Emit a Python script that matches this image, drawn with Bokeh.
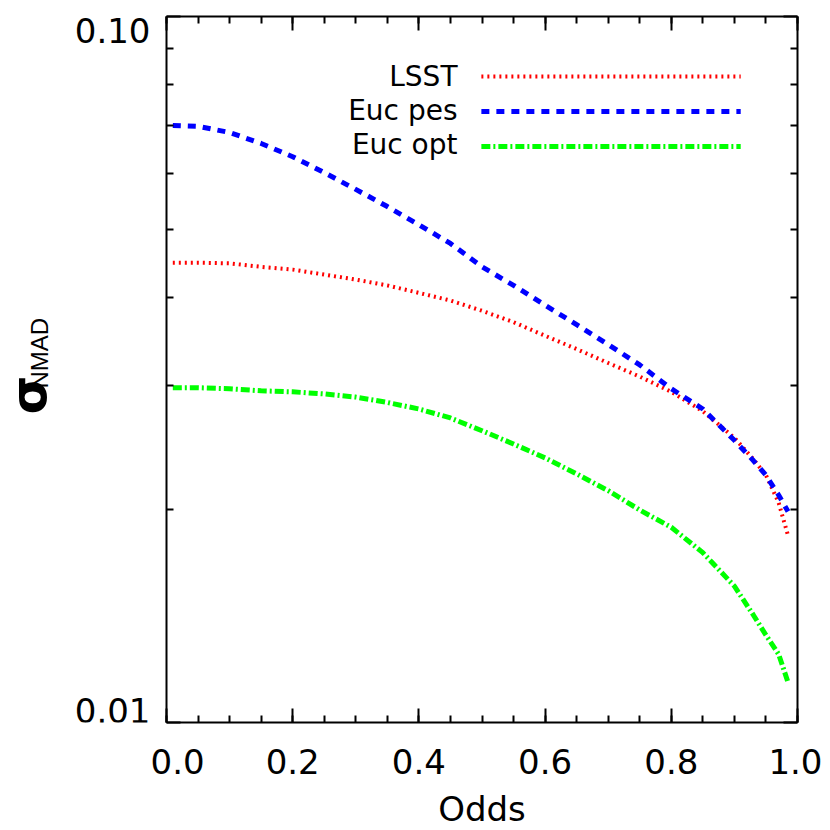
import math
from bokeh.plotting import figure
from bokeh.layouts import row
from bokeh.models import (LinearAxis, LogAxis, FixedTicker, CustomJSTickFormatter,
                          PrintfTickFormatter, Label, Range1d)
from bokeh.core.properties import value
from bokeh.embed import file_html
from bokeh.resources import INLINE

# ---------------- data ----------------
odds = [0.01, 0.05, 0.10, 0.15, 0.20, 0.25, 0.30, 0.35, 0.40, 0.45, 0.50, 0.55,
        0.60, 0.65, 0.70, 0.75, 0.80, 0.85, 0.90, 0.93, 0.95, 0.97, 0.985]
lsst = [0.0448, 0.0448, 0.0447, 0.0442, 0.0438, 0.0431, 0.0424, 0.0416, 0.0406, 0.0396,
        0.0383, 0.0369, 0.0353, 0.0338, 0.0323, 0.0309, 0.0294, 0.0276, 0.0253, 0.0236,
        0.0224, 0.0205, 0.0184]
euc_pes = [0.0701, 0.0699, 0.0685, 0.0661, 0.0633, 0.0601, 0.0569, 0.0538, 0.0507, 0.0477,
           0.0442, 0.0416, 0.0390, 0.0366, 0.0343, 0.0321, 0.0297, 0.0278, 0.0251, 0.0235,
           0.0224, 0.0210, 0.0199]
euc_opt = [0.0298, 0.0298, 0.0297, 0.0295, 0.0294, 0.0292, 0.0289, 0.0284, 0.0278, 0.0270,
           0.0259, 0.0248, 0.0237, 0.0225, 0.0213, 0.0200, 0.0189, 0.0174, 0.0156, 0.0142,
           0.0133, 0.0125, 0.0114]

series_names = ["LSST", "Euc pes", "Euc opt"]
x_major = [0.0, 0.2, 0.4, 0.6, 0.8, 1.0]
x_minor = [round(i * 0.05, 2) for i in range(21)]
y_major = [0.01, 0.1]
y_major_labels = ["0.01", "0.10"]
y_minor = [0.02, 0.03, 0.04, 0.05, 0.06, 0.07, 0.08, 0.09]
y_title = "σ"
y_title_sub = "NMAD"

FONT = "DejaVu Sans"
SIDE_W = 150     # width of the strip that holds the y-axis texts

y_range = Range1d(0.01, 0.1)

# ---------------- main plot ----------------
p = figure(frame_width=631, frame_height=706,
           x_range=Range1d(0, 1), y_range=y_range,
           y_axis_type="log", x_axis_location=None, y_axis_location=None,
           output_backend="svg", toolbar_location=None,
           min_border_left=16, min_border_top=16, min_border_right=25,
           min_border_bottom=0)
p.outline_line_color = None
p.xgrid.visible = False
p.ygrid.visible = False


def style(ax):
    ax.axis_line_width = 2
    ax.axis_line_color = "black"
    ax.major_tick_line_width = 2
    ax.minor_tick_line_width = 2
    ax.major_tick_line_color = "black"
    ax.minor_tick_line_color = "black"
    ax.major_tick_in = 14
    ax.major_tick_out = 0
    ax.minor_tick_in = 7
    ax.minor_tick_out = 0


blank = CustomJSTickFormatter(code="return ''")

xb = LinearAxis(ticker=FixedTicker(ticks=x_major, minor_ticks=x_minor),
                formatter=PrintfTickFormatter(format="%.1f"))
style(xb)
xb.major_label_text_font = FONT
xb.major_label_text_font_size = "34px"
xb.major_label_text_color = "black"
xb.major_label_standoff = 26
xb.axis_label = "Odds"
xb.axis_label_text_font = FONT
xb.axis_label_text_font_size = "34px"
xb.axis_label_text_font_style = "normal"
xb.axis_label_text_color = "black"
xb.axis_label_standoff = 12
p.add_layout(xb, "below")

for loc, ax in (("above", LinearAxis(ticker=FixedTicker(ticks=x_major, minor_ticks=x_minor),
                                     formatter=blank)),
                ("left", LogAxis(ticker=FixedTicker(ticks=y_major, minor_ticks=y_minor),
                                 formatter=blank)),
                ("right", LogAxis(ticker=FixedTicker(ticks=y_major, minor_ticks=y_minor),
                                  formatter=blank))):
    style(ax)
    ax.major_label_text_font_size = "1px"
    ax.major_label_standoff = 0
    p.add_layout(ax, loc)

colors = ["#ff0000", "#0000ff", "#00ff00"]
dashes = ["2 4", "8 7", "9 3 2 3"]
widths = [4, 5, 5]
data = [lsst, euc_pes, euc_opt]

for ys, c, d, w in zip(data, colors, dashes, widths):
    p.line(odds, ys, line_color=c, line_dash=d, line_width=w)


def py_to_y(py):
    """page row (px) -> value on the log axis (frame spans rows 16..722)"""
    return 10 ** (-2 + (722 - py) / 706)


# legend: text on the left, key line on the right
leg_x0, leg_x1 = 0.499, 0.91
leg_py = [76, 111, 146]          # page rows of the key lines
leg_text_py = [76, 110, 144]     # page rows of the text anchors

for name, c, d, w, lp, tp in zip(series_names, colors, dashes, widths, leg_py, leg_text_py):
    yy = py_to_y(lp)
    p.line([leg_x0, leg_x1], [yy, yy], line_color=c, line_dash=d, line_width=w)
    p.add_layout(Label(x=0, y=0.1, x_offset=291, y_offset=-(tp - 16), text=name,
                       text_align="right", text_baseline="alphabetic",
                       text_font=FONT, text_font_size="28px", text_color="black"))

# ---------------- side strip with the y-axis texts (frame aligned with main) ----------------
s = figure(title=None, frame_width=SIDE_W, frame_height=706,
           x_range=Range1d(0, SIDE_W), y_range=y_range,
           y_axis_type="log", output_backend="svg", toolbar_location=None,
           min_border_left=0, min_border_right=0, min_border_top=16, min_border_bottom=100,
           x_axis_location=None, y_axis_location=None)
s.outline_line_color = None
s.xgrid.visible = False
s.ygrid.visible = False

# tick labels sit inside the axis span, as in the original
s.text(x=[SIDE_W], y=[py_to_y(30)], text=[y_major_labels[1]], text_align="right",
       text_baseline="alphabetic", text_font=value(FONT), text_font_size="34px",
       text_color="black")
s.text(x=[SIDE_W], y=[py_to_y(710)], text=[y_major_labels[0]], text_align="right",
       text_baseline="alphabetic", text_font=value(FONT), text_font_size="34px",
       text_color="black")
s.text(x=[28], y=[py_to_y(414)], text=[y_title], angle=math.pi / 2, text_align="left",
       text_baseline="alphabetic", text_font=value(FONT), text_font_size="50px",
       text_font_style="bold", text_color="black")
s.text(x=[39], y=[py_to_y(388)], text=[y_title_sub], angle=math.pi / 2, text_align="left",
       text_baseline="alphabetic", text_font=value("Liberation Sans"),
       text_font_size="24px", text_color="black")

layout = row(s, p, spacing=0)
open("out.html", "w").write(file_html(layout, INLINE))
